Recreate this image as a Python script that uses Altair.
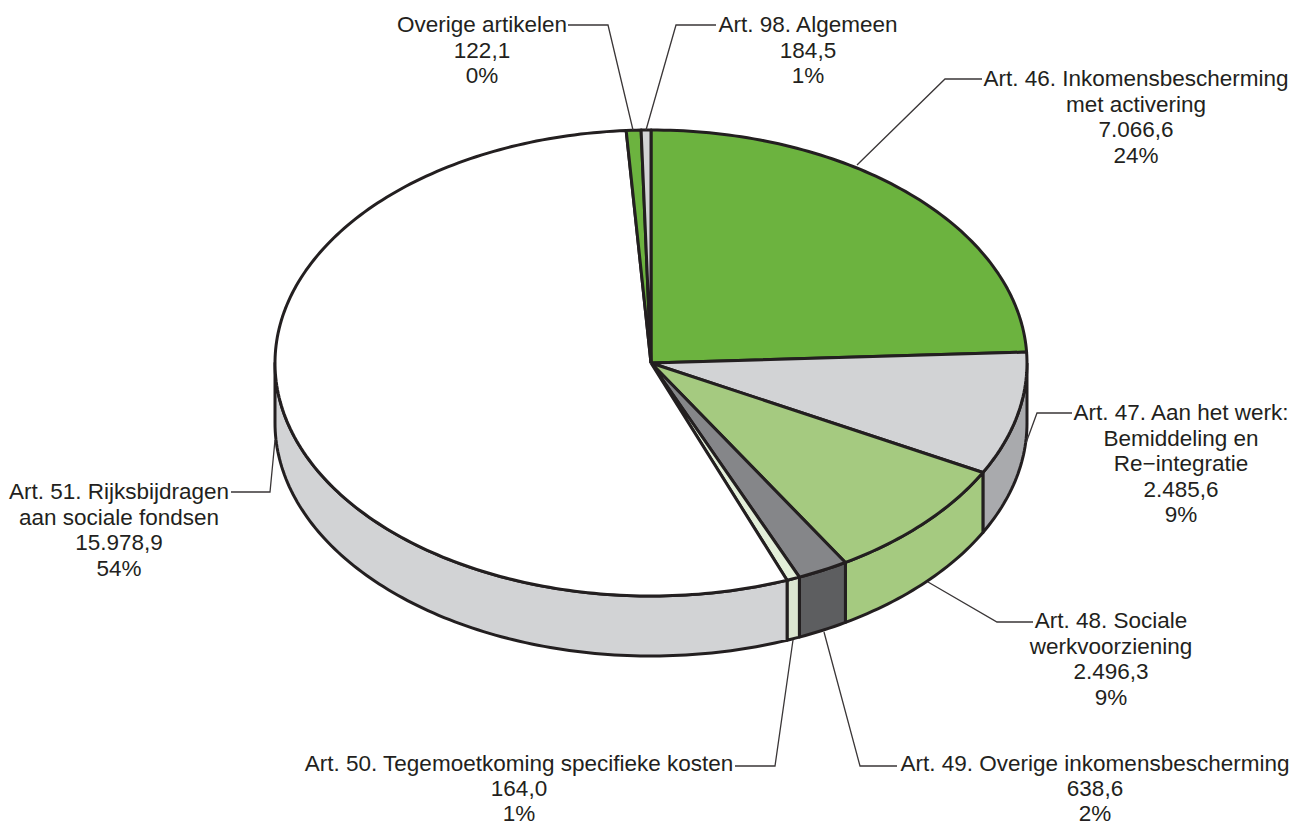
import math
import altair as alt
import pandas as pd

# wedge sizes, clockwise from 12 o'clock
slices = ["Art. 46", "Art. 47", "Art. 48", "Art. 49", "Art. 50", "Art. 51", "Overige", "Art. 98"]
values = [7066.6, 2485.6, 2496.3, 638.6, 164.0, 15978.9, 184.5, 122.1]
top_colors = ["#6cb33f", "#d2d3d5", "#a5ca80", "#858689", "#e3efd9", "#ffffff", "#6cb33f", "#d2d3d5"]
side_colors = ["#6cb33f", "#a9aaad", "#a5ca80", "#5d5e60", "#dbe5d0", "#d2d3d5", "#6cb33f", "#d2d3d5"]

label_lines = [
    ["Overige artikelen", "122,1", "0%"],
    ["Art. 98. Algemeen", "184,5", "1%"],
    ["Art. 46. Inkomensbescherming", "met activering", "7.066,6", "24%"],
    ["Art. 47. Aan het werk:", "Bemiddeling en", "Re\u2212integratie", "2.485,6", "9%"],
    ["Art. 48. Sociale", "werkvoorziening", "2.496,3", "9%"],
    ["Art. 49. Overige inkomensbescherming", "638,6", "2%"],
    ["Art. 50. Tegemoetkoming specifieke kosten", "164,0", "1%"],
    ["Art. 51. Rijksbijdragen", "aan sociale fondsen", "15.978,9", "54%"],
]
label_centers = [482, 808, 1136, 1181, 1111, 1095, 519, 119]
label_tops = [25, 25, 79, 413, 621, 764, 764, 492]
line_steps = [25.6, 25.6, 25.6, 25.6, 25.6, 25, 25, 25.6]

leaders = [
    [(568, 25), (608, 25), (633, 130)],
    [(716, 25), (676, 25), (646, 130)],
    [(982, 79), (945, 79), (857, 165)],
    [(1072, 413), (1037, 413), (1026, 443)],
    [(1033, 622), (997, 622), (928, 582)],
    [(897, 766), (860, 766), (824, 632)],
    [(735, 766), (775, 766), (793, 640)],
    [(231, 492), (270, 492), (275, 440)],
]

W, H = 1281, 817
OFF = 8
CX, CY, RX, RY = 651 - OFF, 363 - OFF, 376, 233
DEPTH = 60 / RY  # wall height in pie units

total = sum(values)
top_rows, side_rows = [], []
cum = 0.0
for k, (name, v) in enumerate(zip(slices, values)):
    a0 = cum / total * 2 * math.pi
    cum += v
    a1 = cum / total * 2 * math.pi
    n = max(2, int(math.degrees(a1 - a0)) + 2)
    arc = [a0 + (a1 - a0) * i / (n - 1) for i in range(n)]
    pts = [(0.0, 0.0)] + [(math.sin(t), math.cos(t)) for t in arc] + [(0.0, 0.0)]
    for i, (x, y) in enumerate(pts):
        top_rows.append(dict(s=name, i=i, x=x, y=y))
    # the wall is visible on the front half only
    lo, hi = max(a0, math.pi / 2), min(a1, 3 * math.pi / 2)
    if hi > lo:
        n = max(2, int(math.degrees(hi - lo)) + 2)
        arc = [lo + (hi - lo) * i / (n - 1) for i in range(n)]
        up = [(math.sin(t), math.cos(t)) for t in arc]
        down = [(x, y - DEPTH) for x, y in reversed(up)]
        for i, (x, y) in enumerate(up + down + up[:1]):
            side_rows.append(dict(s=name, i=i, x=x, y=y))

x_unit = alt.Scale(domain=[-1, 1], range=[CX - RX, CX + RX])
y_unit = alt.Scale(domain=[-1, 1], range=[CY + RY, CY - RY])
x_px = alt.Scale(domain=[0, W], range=[0, W])
y_px = alt.Scale(domain=[0, H], range=[0, H])
INK = "#231f20"


def shape_layer(rows, colors):
    return alt.Chart(pd.DataFrame(rows)).mark_line(
        stroke=INK, strokeWidth=3, strokeJoin="round", clip=False
    ).encode(
        x=alt.X("x:Q", scale=x_unit, axis=None),
        y=alt.Y("y:Q", scale=y_unit, axis=None),
        fill=alt.Fill("s:N", scale=alt.Scale(domain=slices, range=colors), legend=None),
        detail="s:N",
        order="i:Q",
    )


leader_rows = []
for k, poly in enumerate(leaders):
    for i, (x, y) in enumerate(poly):
        leader_rows.append(dict(k=k, i=i, x=x - OFF, y=y - OFF))
leader_layer = alt.Chart(pd.DataFrame(leader_rows)).mark_line(
    stroke="#3a3637", strokeWidth=1.3, strokeJoin="miter"
).encode(
    x=alt.X("x:Q", scale=x_px, axis=None),
    y=alt.Y("y:Q", scale=y_px, axis=None),
    detail="k:N",
    order="i:Q",
)

text_rows = []
for lines, cx, top, step in zip(label_lines, label_centers, label_tops, line_steps):
    for j, line in enumerate(lines):
        text_rows.append(dict(t=line, x=cx - OFF, y=top + j * step - OFF))
text_layer = alt.Chart(pd.DataFrame(text_rows)).mark_text(
    font="Liberation Sans", fontSize=22.5, color="#231f20", align="center", baseline="middle"
).encode(
    x=alt.X("x:Q", scale=x_px, axis=None),
    y=alt.Y("y:Q", scale=y_px, axis=None),
    text="t:N",
)

chart = alt.layer(
    shape_layer(side_rows, side_colors),
    shape_layer(top_rows, top_colors),
    leader_layer,
    text_layer,
).resolve_scale(x="independent", y="independent", fill="independent").properties(
    width=W, height=H, padding=0, autosize=alt.AutoSizeParams(type="none")
).configure_view(stroke=None)

chart.save("out.html", embed_options={"renderer": "svg", "actions": False})
